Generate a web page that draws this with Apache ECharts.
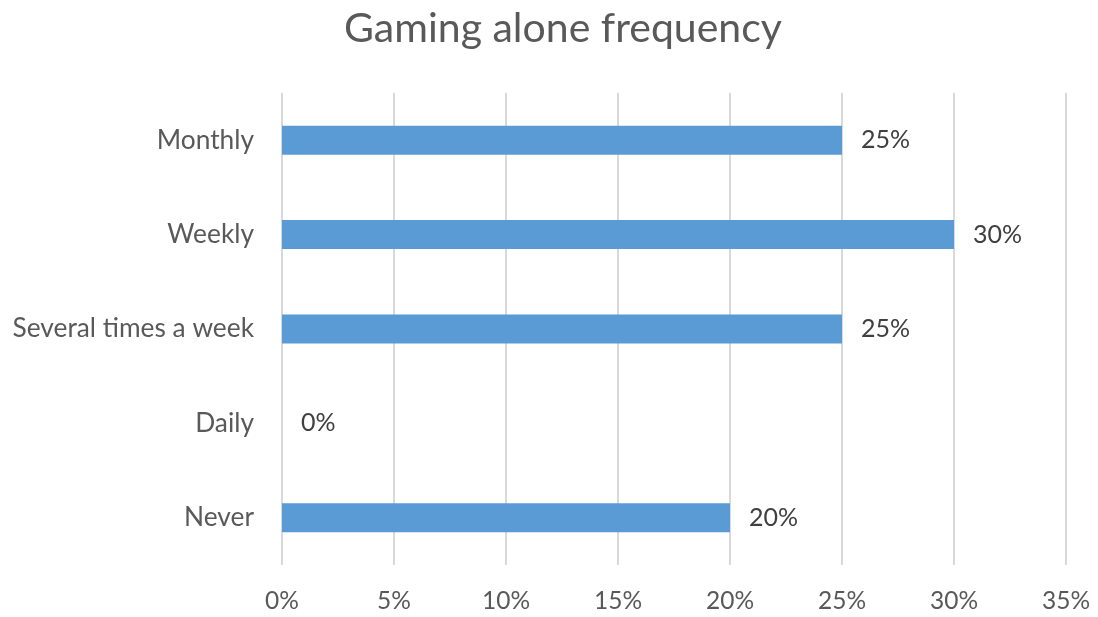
<!DOCTYPE html>
<html>
<head>
<meta charset="utf-8">
<script src="https://cdn.jsdelivr.net/npm/echarts@6/dist/echarts.min.js"></script>
<style>html,body{margin:0;padding:0;background:#fff}#c{width:1098px;height:617px}</style>
</head>
<body>
<div id="c"></div>
<script>
const titleText = 'Gaming alone frequency';
const categories = ['Monthly', 'Weekly', 'Several times a week', 'Daily', 'Never'];
const values = [25, 30, 25, 0, 20];
const xTicks = { min: 0, max: 35, interval: 5 };

const chart = echarts.init(document.getElementById('c'), null, { renderer: 'canvas' });
chart.setOption({
  animation: false,
  backgroundColor: '#ffffff',
  title: {
    text: titleText,
    left: 339,
    top: 3,
    textStyle: { fontFamily: 'Lato', fontSize: 41, fontWeight: 'normal', color: '#595959' }
  },
  grid: { left: 282, right: 32, top: 93, bottom: 52, containLabel: false },
  xAxis: {
    type: 'value',
    min: xTicks.min, max: xTicks.max, interval: xTicks.interval,
    axisLine: { show: false },
    axisTick: { show: false },
    splitLine: { show: true, lineStyle: { color: '#D9D9D9', width: 2 } },
    axisLabel: {
      formatter: v => v + '%',
      margin: 24,
      fontFamily: 'Lato', fontSize: 24.5, color: '#595959'
    }
  },
  yAxis: {
    type: 'category',
    data: categories,
    inverse: true,
    axisLine: { show: false },
    axisTick: { show: false },
    splitLine: { show: false },
    axisLabel: { margin: 28, fontFamily: 'Lato', fontSize: 26.3, color: '#595959' }
  },
  series: [{
    type: 'bar',
    data: values,
    barWidth: 29,
    itemStyle: { color: '#5B9BD5' },
    label: {
      show: true,
      position: 'right',
      distance: 19,
      formatter: p => p.value + '%',
      fontFamily: 'Lato', fontSize: 25, color: '#404040'
    }
  }]
});
</script>
</body>
</html>
